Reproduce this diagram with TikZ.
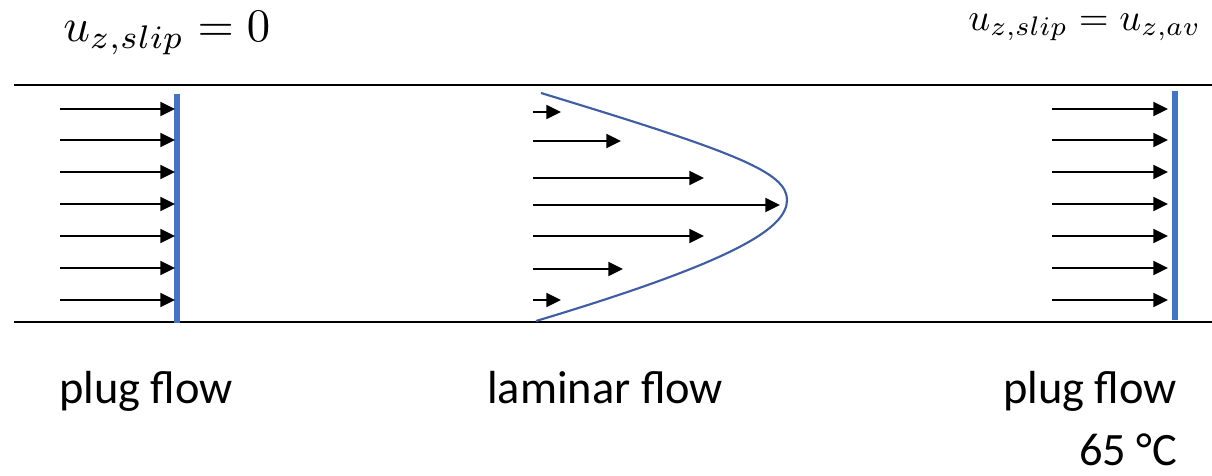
\documentclass[tikz,border=0pt]{standalone}
\usepackage{graphicx}
\usepackage{fontspec}
\setmainfont{Carlito}
\usepackage{tikz}
\usetikzlibrary{arrows.meta}

\definecolor{barblue}{RGB}{68,114,196}
\definecolor{profblue}{RGB}{64,94,164}

\begin{document}
\begin{tikzpicture}[x=0.75pt, y=-0.75pt,
	wall/.style={line width=1.5pt},
	bar/.style={line width=4.5pt, barblue},
	arr/.style={-{Triangle[length=11pt, width=10.5pt]}, line width=1.5pt},
	lbl/.style={anchor=base west, inner sep=0pt, text depth=0pt, font=\fontsize{34.8}{40}\selectfont},
	eq/.style={anchor=base west, inner sep=0pt}
]
	\useasboundingbox (0,0) rectangle (1212,475);
	\node[eq] (slipzero) at (63,41) {\scalebox{3.5}{$u_{z,slip}=0$}};
	\node[eq] (slipav) at (968,30) {\scalebox{2.88}{$u_{z,slip}=u_{z,av}$}};
	\draw[wall] (14,85) -- (1212,85);
	\draw[wall] (14,322) -- (1212,322);
	\draw[bar] (177,94) -- (177,323);
	\draw[bar] (1175,91) -- (1175,320);
	\foreach \y in {109,140,172,204,236,268,300} {
		\draw[arr] (60,\y) -- (175,\y);
		\draw[arr] (1052,\y) -- (1168,\y);
	}
	\foreach \y/\xe in {112/561, 141/621, 178/704, 205/780, 236/704, 269/623, 300/561}
		\draw[arr] (533,\y) -- (\xe,\y);
	\draw[profblue, line width=1.6pt] (541,93) .. controls (735,152) and (787,172) .. (787,200)
		.. controls (787,228) and (736,261) .. (536,321);
	\node[lbl] (plugleft) at (59,403) {plug flow};
	\node[lbl] (laminar) at (487,403) {laminar flow};
	\node[lbl] (plugright) at (1003,403) {plug flow};
	\node[lbl] (temp) at (1079,465) {65 °C};
\end{tikzpicture}
\end{document}
